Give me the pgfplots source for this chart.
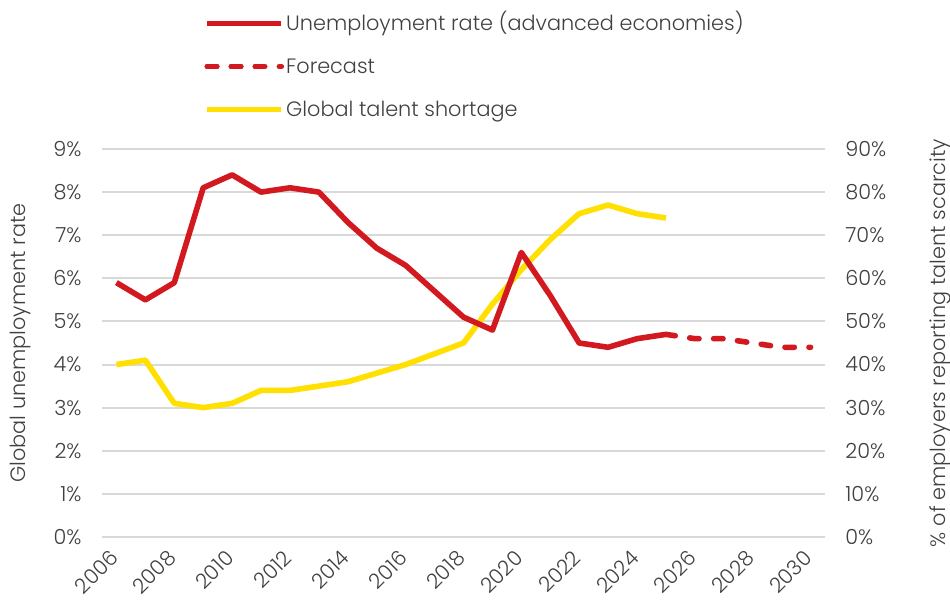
\documentclass[border=0pt]{standalone}
\usepackage{pgfplots}
\pgfplotsset{compat=1.18}
\usepackage{fontspec}
\setmainfont{Poppins Light}
\definecolor{ured}{HTML}{D2191F}
\definecolor{uyellow}{HTML}{FFE000}
\definecolor{gridg}{HTML}{D9D9D9}
\definecolor{txt}{HTML}{404040}
\begin{document}
\begin{tikzpicture}
\pgfplotsset{
  common/.style={
    scale only axis, width=361.5pt, height=194pt,
    xmin=2005.5, xmax=2030.5,
    axis line style={draw=none}, major tick length=0pt,
    font=\fontsize{10.4}{12}\selectfont,
    every tick label/.append style={text=txt},
    every axis label/.append style={text=txt},
    /pgf/number format/assume math mode=true,
    /pgf/number format/1000 sep={},
  }
}
% right axis: talent shortage (drawn first, holds grid)
\begin{axis}[common,
  ymin=0, ymax=90, ytick={0,10,...,90},
  ymajorgrids, grid style={line width=1pt, gridg},
  yticklabel pos=right,
  xtick=\empty,
  yticklabel={\pgfmathprintnumber{\tick}\%},
  yticklabel style={inner sep=0pt, anchor=west, xshift=10pt},
  ylabel={\% of employers reporting talent scarcity},
  ylabel style={at={(axis description cs:1.159,0.5)}, anchor=center, inner sep=0pt},
]
\addplot[uyellow, line width=2.8pt, line join=round] coordinates {
(2006,40) (2007,41) (2008,31) (2009,30) (2010,31) (2011,34) (2012,34)
(2013,35) (2014,36) (2015,38) (2016,40) (2017,42.5) (2018,45) (2019,54)
(2020,62) (2021,69) (2022,75) (2023,77) (2024,75) (2025,74)};
\end{axis}
% left axis: unemployment
\begin{axis}[common,
  ymin=0, ymax=9, ytick={0,1,...,9},
  xtick={2006,2008,...,2030},
  xticklabel style={xshift=-1pt, yshift=-8.5pt, rotate=45, anchor=east, inner sep=0pt},
  yticklabel={\pgfmathprintnumber{\tick}\%},
  yticklabel style={inner sep=0pt, anchor=east, xshift=-10pt},
  ylabel={Global unemployment rate},
  ylabel style={at={(axis description cs:-0.1134,0.5)}, anchor=center, inner sep=0pt},
  legend style={at={(axis description cs:0.133,1.3696)}, anchor=north west,
    draw=none, fill=none, legend cell align=left, row sep=8pt,
    nodes={inner sep=1pt, text height=9pt, text depth=2.5pt, text=txt, font=\fontsize{10.4}{12}\selectfont}},
  legend image code/.code={\draw[#1] (0pt,0pt) -- (28pt,0pt); \path (0pt,0pt) -- (37pt,0pt);},
]
\addplot[ured, line width=2.8pt, line join=round] coordinates {
(2006,5.9) (2007,5.5) (2008,5.9) (2009,8.1) (2010,8.4) (2011,8.0) (2012,8.1)
(2013,8.0) (2014,7.3) (2015,6.7) (2016,6.3) (2017,5.7) (2018,5.1) (2019,4.8)
(2020,6.6) (2021,5.6) (2022,4.5) (2023,4.4) (2024,4.6) (2025,4.7)};
\addlegendentry{Unemployment rate (advanced economies)}
\addplot[ured, line width=2.8pt, line cap=round, dash pattern=on 4.7pt off 7.3pt] coordinates {
(2025,4.7) (2026,4.6) (2027,4.6) (2028,4.5) (2029,4.4) (2030,4.4)};
\addlegendentry{Forecast}
\addlegendimage{uyellow, line width=2.8pt}
\addlegendentry{Global talent shortage}
\coordinate (BL) at (rel axis cs:0,0);
\coordinate (TR) at (rel axis cs:1,1);
\end{axis}
\pgfresetboundingbox
\path ([shift={(-51pt,-32.5pt)}]BL) rectangle ([shift={(62.5pt,74.5pt)}]TR);
\end{tikzpicture}
\end{document}
